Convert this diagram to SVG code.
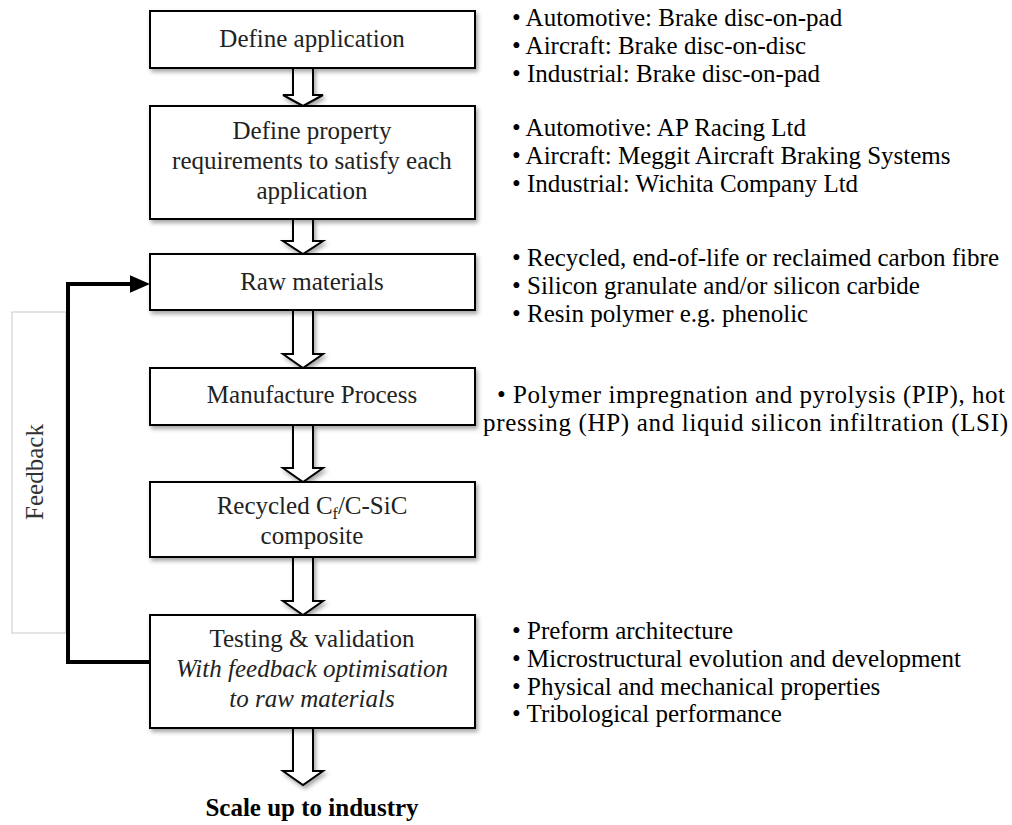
<svg xmlns="http://www.w3.org/2000/svg" width="1012" height="825" viewBox="0 0 1012 825">
<style>
.box{fill:#fff;stroke:#000;stroke-width:2;filter:url(#sh)}
.bt{font-family:"Liberation Serif",serif;font-size:25px;fill:#222;text-anchor:middle}
.rt{font-family:"Liberation Serif",serif;font-size:25px;fill:#000}
.ha{fill:#fff;stroke:#000;stroke-width:2;stroke-linejoin:miter;filter:url(#sh)}
</style>
<defs>
<filter id="sh" x="-10%" y="-10%" width="130%" height="140%">
<feDropShadow dx="2" dy="3" stdDeviation="2" flood-color="#000" flood-opacity="0.35"/>
</filter>
<marker id="ah" markerWidth="5" markerHeight="4.4" refX="0" refY="2.2" orient="auto" markerUnits="strokeWidth">
<path d="M0,0 L5,2.2 L0,4.4 Z" fill="#000"/>
</marker>
</defs>
<rect width="1012" height="825" fill="#fff"/>

<g id="feedback-label">
<rect x="12" y="312" width="54" height="321" fill="none" stroke="#c8c8c8" stroke-width="1"/>
<text x="0" y="0" transform="translate(43,472) rotate(-90)" class="bt" style="fill:#333">Feedback</text>
</g>

<g id="connectors">
<path class="ha" d="M293,68 V95 H283 L303,106 L323,95 H313 V68"/>
<path class="ha" d="M293,219 V241 H283 L303,254 L323,241 H313 V219"/>
<path class="ha" d="M293,310 V354 H283 L303,368 L323,354 H313 V310"/>
<path class="ha" d="M293,425 V468 H283 L303,482 L323,468 H313 V425"/>
<path class="ha" d="M293,557 V601 H283 L303,615 L323,601 H313 V557"/>
<path class="ha" d="M293,728 V771 H283 L303,785 L323,771 H313 V728"/>
<path d="M150,662 H68 V284 H130" fill="none" stroke="#000" stroke-width="4" marker-end="url(#ah)"/>
</g>

<g id="n1">
<rect class="box" x="150" y="11" width="325" height="57"/>
<text class="bt" x="312" y="47">Define application</text>
</g>
<g id="n2">
<rect class="box" x="150" y="106" width="325" height="113"/>
<text class="bt" x="312" y="139">Define property</text>
<text class="bt" x="312" y="169">requirements to satisfy each</text>
<text class="bt" x="312" y="199">application</text>
</g>
<g id="n3">
<rect class="box" x="150" y="254" width="325" height="56"/>
<text class="bt" x="312" y="290">Raw materials</text>
</g>
<g id="n4">
<rect class="box" x="150" y="368" width="325" height="57"/>
<text class="bt" x="312" y="403">Manufacture Process</text>
</g>
<g id="n5">
<rect class="box" x="150" y="482" width="325" height="75"/>
<text class="bt" x="312" y="514">Recycled C<tspan font-size="16" dy="5">f</tspan><tspan dy="-5">/C-SiC</tspan></text>
<text class="bt" x="312" y="544">composite</text>
</g>
<g id="n6">
<rect class="box" x="150" y="615" width="325" height="113"/>
<text class="bt" x="312" y="647">Testing &amp; validation</text>
<text class="bt" x="312" y="677" font-style="italic">With feedback optimisation</text>
<text class="bt" x="312" y="707" font-style="italic">to raw materials</text>
</g>
<g id="scale-up">
<text class="bt" x="312" y="816" font-weight="bold" style="fill:#000">Scale up to industry</text>
</g>

<g id="notes-1">
<text class="rt" x="512" y="26">• Automotive: Brake disc-on-pad</text>
<text class="rt" x="512" y="54">• Aircraft: Brake disc-on-disc</text>
<text class="rt" x="512" y="82">• Industrial: Brake disc-on-pad</text>
</g>
<g id="notes-2">
<text class="rt" x="512" y="136">• Automotive: AP Racing Ltd</text>
<text class="rt" x="512" y="164">• Aircraft: Meggit Aircraft Braking Systems</text>
<text class="rt" x="512" y="192">• Industrial: Wichita Company Ltd</text>
</g>
<g id="notes-3">
<text class="rt" x="512" y="266">• Recycled, end-of-life or reclaimed carbon fibre</text>
<text class="rt" x="512" y="294">• Silicon granulate and/or silicon carbide</text>
<text class="rt" x="512" y="322">• Resin polymer e.g. phenolic</text>
</g>
<g id="notes-4">
<text class="rt" x="497" y="403" textLength="508" lengthAdjust="spacing">• Polymer impregnation and pyrolysis (PIP), hot</text>
<text class="rt" x="483" y="431" textLength="525" lengthAdjust="spacing">pressing (HP) and liquid silicon infiltration (LSI)</text>
</g>
<g id="notes-5">
<text class="rt" x="512" y="639">• Preform architecture</text>
<text class="rt" x="512" y="667">• Microstructural evolution and development</text>
<text class="rt" x="512" y="695">• Physical and mechanical properties</text>
<text class="rt" x="512" y="722">• Tribological performance</text>
</g>
</svg>
